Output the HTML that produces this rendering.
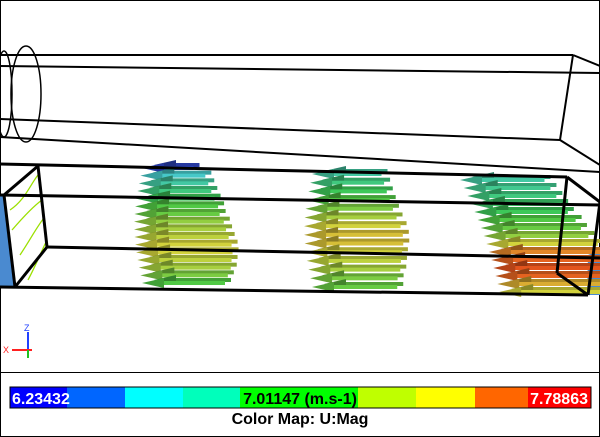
<!DOCTYPE html>
<html><head><meta charset="utf-8"><style>
html,body{margin:0;padding:0;background:#fff}
svg{display:block}
text{font-family:"Liberation Sans",sans-serif}
</style></head><body>
<svg id="s" width="600" height="437" viewBox="0 0 600 437">
<rect x="0.5" y="0.5" width="599" height="436" fill="#fff" stroke="#000"/>
<g stroke="#000" fill="none" stroke-width="2">
<line x1="0" y1="55" x2="573" y2="55"/>
<line x1="0" y1="66" x2="600" y2="73"/>
<line x1="0" y1="119" x2="560" y2="140"/>
<line x1="0" y1="137" x2="600" y2="172"/>
<line x1="573" y1="55" x2="560" y2="140"/>
<line x1="573" y1="55" x2="600" y2="66"/>
<line x1="560" y1="140" x2="600" y2="165"/>
<ellipse cx="26" cy="94" rx="15" ry="48" stroke-width="1.5"/>
<ellipse cx="4" cy="94" rx="8" ry="43" stroke-width="1.5"/>
</g>
<g>
<polygon points="0,195 5,195 15,287 0,287" fill="#4a8ad0"/>
<polygon points="588,255 600,250 600,295 587,295" fill="#4a8ad0"/>
<path d="M10,210 C25,200 30,185 38,175 M12,230 C25,215 35,205 42,200 M20,255 C30,240 38,225 44,218 M28,280 C36,265 42,250 47,240" stroke="#9be000" stroke-width="1.3" fill="none"/>
</g>
<g id="arrows"></g>
<g stroke="#000" fill="none" stroke-width="3">
<line x1="0" y1="164" x2="567" y2="177"/>
<line x1="0" y1="195" x2="600" y2="205"/>
<line x1="47" y1="247" x2="600" y2="258"/>
<line x1="0" y1="287" x2="588" y2="295"/>
<line x1="38" y1="166" x2="47" y2="247"/>
<line x1="38" y1="166" x2="4" y2="195"/>
<line x1="47" y1="247" x2="15" y2="287"/>
<line x1="567" y1="177" x2="557" y2="273"/>
<line x1="567" y1="177" x2="600" y2="202"/>
<line x1="557" y1="273" x2="588" y2="295"/>
<line x1="600" y1="202" x2="588" y2="295"/>
<line x1="4" y1="195" x2="15" y2="287"/>
</g>
<g>
<line x1="28" y1="332" x2="28" y2="350" stroke="#2040ff" stroke-width="2"/>
<line x1="12" y1="350" x2="32" y2="350" stroke="#ff2020" stroke-width="2"/>
<line x1="28" y1="350" x2="28" y2="358" stroke="#20c020" stroke-width="2"/>
<text x="24" y="331" font-size="9" fill="#2040ff">Z</text>
<text x="3" y="353" font-size="9" fill="#ff2020">X</text>
</g>
<line x1="0" y1="372.5" x2="600" y2="372.5" stroke="#000"/>
<g id="cbar"></g>
<rect x="10" y="387" width="581" height="21" fill="none" stroke="#000"/>
<text x="12" y="404" font-size="16" font-weight="bold" fill="#fff">6.23432</text>
<text x="300" y="404" font-size="16" font-weight="bold" fill="#000" text-anchor="middle">7.01147 (m.s-1)</text>
<text x="588" y="404" font-size="16" font-weight="bold" fill="#fff" text-anchor="end">7.78863</text>
<text x="300" y="424" font-size="16" font-weight="bold" fill="#000" text-anchor="middle">Color Map: U:Mag</text>
</svg>
<script>
const cbarStops = [6.23432, 6.42, 6.62, 6.81, 7.01, 7.23, 7.40, 7.59, 7.69, 7.78863];
const cbarColors = ["#0000ff","#0066ff","#00ffff","#00ffbb","#00ff00","#00ff00","#bfff00","#ffff00","#ff6600","#ff0000"];
const cluster1Mag = [6.30,6.60,6.70,6.80,6.90,7.00,7.05,7.15,7.20,7.25,7.30,7.30,7.25,7.20,7.10,7.00];
const cluster2Mag = [6.70,6.80,6.90,7.00,7.10,7.20,7.30,7.35,7.35,7.30,7.25,7.20,7.10,7.05];
const cluster3Mag = [6.70,6.75,6.80,6.85,6.90,7.00,7.05,7.15,7.30,7.50,7.60,7.65,7.60,7.40,7.30];
const NS="http://www.w3.org/2000/svg";
const vmin=6.23432,vmax=7.78863;
const cb=document.getElementById('cbar');
const bandEdges=[10,67,125,183,240,358,416,475,528,591];
const bandCols=["#0000ff","#0066ff","#00ffff","#00ffbb","#00ff00","#bfff00","#ffff00","#ff6600","#ff0000"];
for(let i=0;i<bandCols.length;i++){
  const r=document.createElementNS(NS,'rect');
  r.setAttribute('x',bandEdges[i]);r.setAttribute('y',387);
  r.setAttribute('width',bandEdges[i+1]-bandEdges[i]);r.setAttribute('height',21);
  r.setAttribute('fill',bandCols[i]);
  
  
  cb.appendChild(r);
}
const ramp=[[6.23,[40,40,200]],[6.6,[70,200,200]],[6.95,[60,200,70]],[7.3,[210,210,60]],[7.55,[230,115,35]],[7.79,[220,40,20]]];
function col(v,k){
  let a=ramp[0],b=ramp[ramp.length-1];
  for(let i=0;i<ramp.length-1;i++){if(v>=ramp[i][0]&&v<=ramp[i+1][0]){a=ramp[i];b=ramp[i+1];break;}}
  const t=Math.max(0,Math.min(1,(v-a[0])/(b[0]-a[0]||1)));
  const c=a[1].map((x,j)=>Math.min(255,Math.round((x+(b[1][j]-x)*t)*k)));
  return `rgb(${c[0]},${c[1]},${c[2]})`;
}
const g=document.getElementById('arrows');
function len(v){return 20+(v-6.0)*45;}
function drawCluster(mags,x0,y0,y1,slant,bulge,extra,name){
  const n=mags.length;
  mags.forEach((v,i)=>{
    const y=y0+(y1-y0)*i/(n-1);
    const t=i/(n-1);
    const tip=x0+slant*i-bulge*Math.sin(Math.PI*t);
    for(let d=1;d>=0;d--){
      const tx=tip+d*12, ty=y-d*3;
      const L=len(v)+extra-d*6;
      const grp=document.createElementNS(NS,'g');
      
      
      const sh=document.createElementNS(NS,'rect');
      sh.setAttribute('x',tx+18);sh.setAttribute('y',ty-2);
      sh.setAttribute('width',L);sh.setAttribute('height',4);
      sh.setAttribute('fill',col(v,d?0.8:1.0));
      const hd=document.createElementNS(NS,'polygon');
      hd.setAttribute('points',`${tx},${ty} ${tx+22},${ty-5} ${tx+22},${ty+5}`);
      hd.setAttribute('fill',col(v,d?0.65:0.8));
      grp.appendChild(sh);grp.appendChild(hd);g.appendChild(grp);
    }
  });
}
drawCluster(cluster1Mag,142,168,283,0,8,0,'cluster1');
drawCluster(cluster2Mag,312,174,287,0,8,0,'cluster2');
drawCluster(cluster3Mag,460,180,292,2.8,-4,15,'cluster3');
</script>
</body></html>
